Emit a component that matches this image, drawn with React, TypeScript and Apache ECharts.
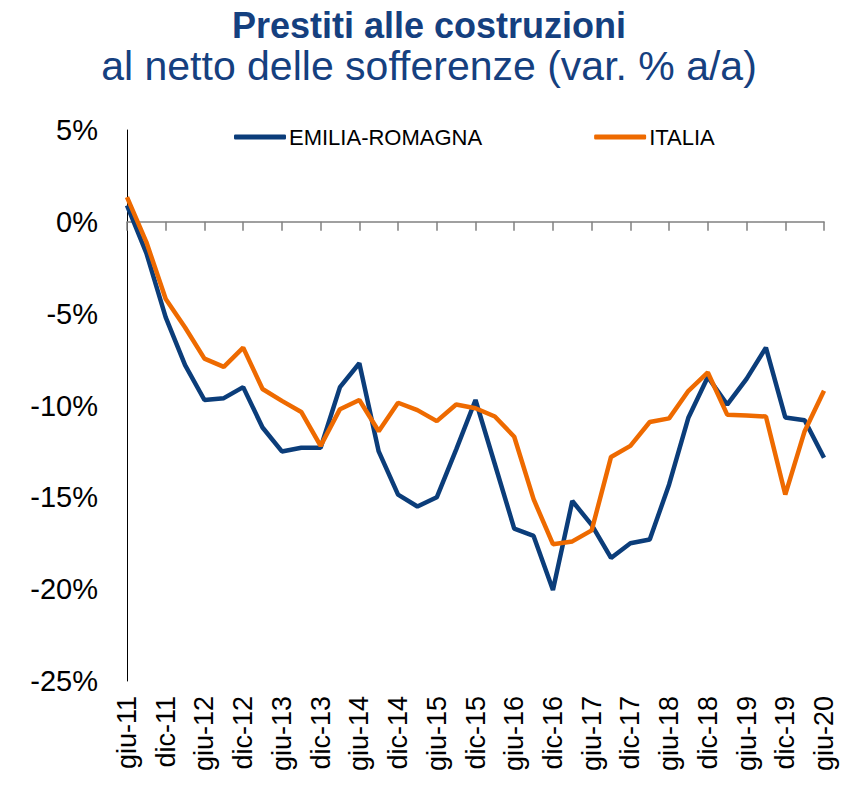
import React, { useEffect, useRef } from "react";
import * as echarts from "echarts";

const categories = [
  "giu-11", "set-11", "dic-11", "mar-12", "giu-12", "set-12", "dic-12", "mar-13",
  "giu-13", "set-13", "dic-13", "mar-14", "giu-14", "set-14", "dic-14", "mar-15",
  "giu-15", "set-15", "dic-15", "mar-16", "giu-16", "set-16", "dic-16", "mar-17",
  "giu-17", "set-17", "dic-17", "mar-18", "giu-18", "set-18", "dic-18", "mar-19",
  "giu-19", "set-19", "dic-19", "mar-20", "giu-20",
];

const emiliaRomagna = [
  0.9, -1.7, -5.2, -7.8, -9.7, -9.6, -9.0, -11.2, -12.5, -12.3, -12.3, -9.0, -7.7,
  -12.5, -14.85, -15.5, -15.0, -12.4, -9.7, -13.2, -16.7, -17.1, -20.05, -15.2,
  -16.5, -18.3, -17.5, -17.3, -14.3, -10.65, -8.45, -9.95, -8.55, -6.85, -10.65,
  -10.8, -12.85,
];

const italia = [
  1.35, -1.1, -4.2, -5.75, -7.45, -7.9, -6.85, -9.1, -9.75, -10.35, -12.2, -10.2,
  -9.7, -11.4, -9.85, -10.25, -10.85, -9.95, -10.15, -10.6, -11.7, -15.1, -17.55,
  -17.4, -16.8, -12.8, -12.2, -10.9, -10.7, -9.2, -8.2, -10.5, -10.55, -10.6,
  -14.85, -11.4, -9.2,
];

const seriesNames = ["EMILIA-ROMAGNA", "ITALIA"];
const titleText = "Prestiti alle costruzioni";
const subtitleText = "al netto delle sofferenze (var. % a/a)";

const BLUE = "#0b3d7a";
const ORANGE = "#ee6a00";
const TITLE_BLUE = "#15407f";

export default function App() {
  const ref = useRef<HTMLDivElement>(null);
  useEffect(() => {
    if (!ref.current) return;
    const chart = echarts.init(ref.current, null, { renderer: "svg" });
    chart.setOption({
      animation: false,
      backgroundColor: "#ffffff",
      title: [
        {
          text: titleText,
          left: "center",
          top: 2,
          textStyle: {
            fontFamily: "Liberation Sans",
            fontWeight: "bold",
            fontSize: 36,
            color: TITLE_BLUE,
          },
        },
        {
          text: subtitleText,
          left: "center",
          top: 40,
          textStyle: {
            fontFamily: "Liberation Sans",
            fontWeight: "normal",
            fontSize: 41,
            color: TITLE_BLUE,
          },
        },
      ],
      legend: {
        left: 229,
        top: 121,
        itemWidth: 52,
        itemHeight: 5,
        itemGap: 112,
        icon: "roundRect",
        data: seriesNames,
        textStyle: {
          fontFamily: "Liberation Sans",
          fontSize: 22,
          color: "#000",
          padding: [0, 0, 0, -2],
        },
      },
      grid: { left: 127, right: 34, top: 130, bottom: 106, containLabel: false },
      xAxis: [
        {
          type: "category",
          data: categories,
          boundaryGap: false,
          position: "bottom",
          axisLine: { onZero: true, lineStyle: { color: "#808080", width: 1.5 } },
          axisTick: { show: true, interval: 1, length: 9, lineStyle: { color: "#808080", width: 1.5 } },
          axisLabel: { show: false },
          splitLine: { show: false },
        },
        {
          type: "category",
          data: categories,
          boundaryGap: false,
          position: "bottom",
          axisLine: { show: false, onZero: false },
          axisTick: { show: false },
          axisLabel: {
            show: true,
            interval: 1,
            rotate: 90,
            margin: 15,
            fontFamily: "Liberation Sans",
            fontSize: 27,
            color: "#000",
          },
          splitLine: { show: false },
        },
      ],
      yAxis: {
        type: "value",
        min: -25,
        max: 5,
        interval: 5,
        axisLine: { show: true, lineStyle: { color: "#000", width: 1 } },
        axisTick: { show: false },
        splitLine: { show: false },
        axisLabel: {
          formatter: "{value}%",
          margin: 29,
          fontFamily: "Liberation Sans",
          fontSize: 29,
          color: "#000",
        },
      },
      series: [
        {
          name: seriesNames[0],
          type: "line",
          xAxisIndex: 0,
          data: emiliaRomagna,
          symbol: "none",
          itemStyle: { color: BLUE },
          lineStyle: { color: BLUE, width: 4.5 },
        },
        {
          name: seriesNames[1],
          type: "line",
          xAxisIndex: 0,
          data: italia,
          symbol: "none",
          itemStyle: { color: ORANGE },
          lineStyle: { color: ORANGE, width: 4.5 },
        },
      ],
    });
    return () => chart.dispose();
  }, []);
  return (
    <div
      ref={ref}
      style={{ position: "fixed", left: 0, top: 0, width: 858, height: 787 }}
    />
  );
}
